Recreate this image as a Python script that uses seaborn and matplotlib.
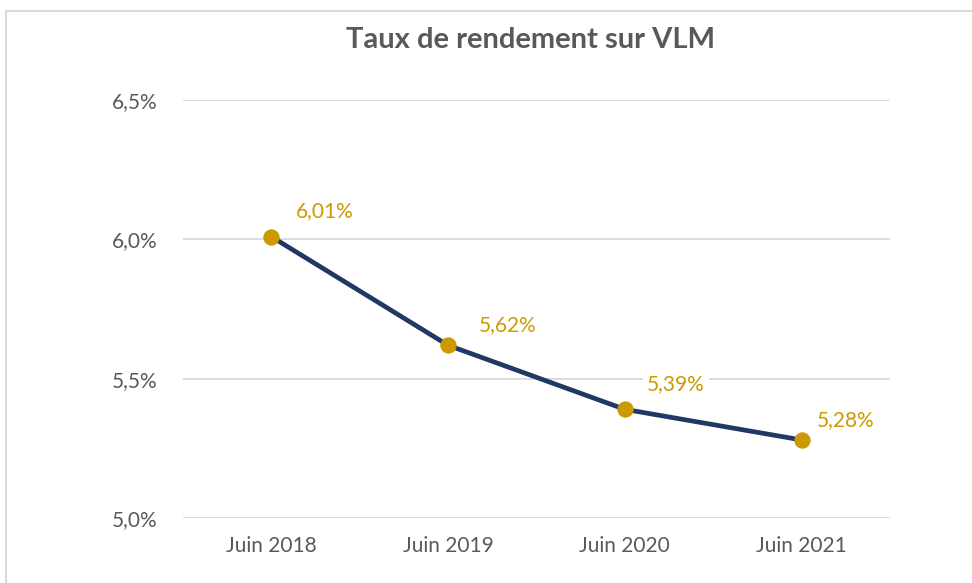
import seaborn as sns
import matplotlib.pyplot as plt
from matplotlib.lines import Line2D

# données
periodes = ["Juin 2018", "Juin 2019", "Juin 2020", "Juin 2021"]
taux = [6.01, 5.62, 5.39, 5.28]
etiquettes = ["6,01%", "5,62%", "5,39%", "5,28%"]
ticks_y = [5.0, 5.5, 6.0, 6.5]
labels_y = ["5,0%", "5,5%", "6,0%", "6,5%"]

# décalage des étiquettes (points), comme placé par Excel
decalages = [(18, 18), (22.5, 14.5), (16, 18), (11, 14)]

sns.set_style("white")
plt.rcParams['font.family'] = ['Lato', 'DejaVu Sans']

fig = plt.figure(figsize=(9.72, 5.83), dpi=100)
ax = fig.add_axes([0.188, 0.1115, 0.7276, 0.717])

x = list(range(len(periodes)))
sns.lineplot(x=x, y=taux, ax=ax, color="#1F3864", linewidth=3.4,
             marker="o", markersize=11, markerfacecolor="#CC9A00",
             markeredgecolor="#CC9A00", zorder=3)

for xi, yi, txt, off in zip(x, taux, etiquettes, decalages):
    ax.annotate(txt, (xi, yi), xytext=off, textcoords="offset points",
                ha="left", va="center", fontsize=15, color="#CC9A00",
                bbox=dict(boxstyle="square,pad=0.2", fc="white", ec="none"),
                zorder=4)

ax.set_xlim(-0.5, 3.5)
ax.set_ylim(5.0, 6.5)
ax.set_xticks(x)
ax.set_xticklabels(periodes)
ax.set_yticks(ticks_y)
ax.set_yticklabels(labels_y)
ax.tick_params(axis="both", labelsize=15, colors="#595959", length=0)
ax.tick_params(axis="y", pad=18)
ax.tick_params(axis="x", pad=13)
ax.grid(axis="y", color="#D9D9D9", linewidth=1.3)
ax.set_axisbelow(True)
for s in ax.spines.values():
    s.set_visible(False)

fig.text(0.546, 0.931, "Taux de rendement sur VLM", ha="center", va="center",
         fontsize=21, fontweight="bold", color="#595959")

# cadre du graphique
fig.add_artist(Line2D([0.0065, 1.0], [1 - 11 / 583, 1 - 11 / 583],
                      transform=fig.transFigure, color="#D9D9D9", linewidth=1.5))
fig.add_artist(Line2D([0.0065, 0.0065], [0.0, 1 - 11 / 583],
                      transform=fig.transFigure, color="#D9D9D9", linewidth=1.5))

plt.savefig("out.png", dpi=100)
